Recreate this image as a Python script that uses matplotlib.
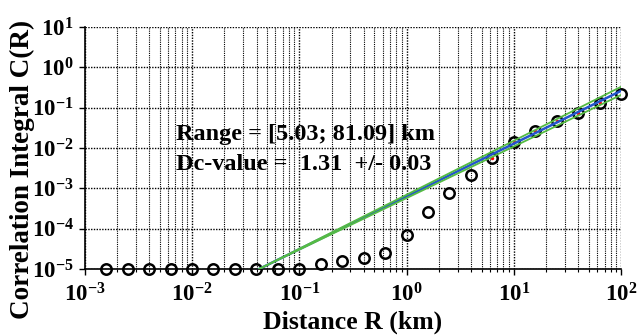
import numpy as np
import matplotlib
matplotlib.use("Agg")
import matplotlib.pyplot as plt
from matplotlib.ticker import FixedLocator, LogLocator, NullFormatter

plt.rcParams['font.family'] = ['Liberation Serif', 'DejaVu Serif']
plt.rcParams['font.weight'] = 'bold'
plt.rcParams['mathtext.fontset'] = 'custom'
plt.rcParams['mathtext.rm'] = 'Liberation Serif:bold'
plt.rcParams['mathtext.bf'] = 'Liberation Serif:bold'
plt.rcParams['mathtext.it'] = 'Liberation Serif:bold'

# data
distance_km = [0.00158, 0.00251, 0.00398, 0.00631, 0.01, 0.0158, 0.0251, 0.0398,
               0.0631, 0.1, 0.158, 0.251, 0.398, 0.631, 1.0, 1.58, 2.51, 3.98,
               6.31, 10.0, 15.8, 25.1, 39.8, 63.1, 100.0]
corr_integral = [1e-5, 1e-5, 1e-5, 1e-5, 1e-5, 1e-5, 1e-5, 1e-5,
                 1e-5, 1e-5, 1.33e-5, 1.55e-5, 1.84e-5, 2.5e-5, 6.9e-5, 2.66e-4,
                 7.5e-4, 2.16e-3, 5.8e-3, 1.42e-2, 2.65e-2, 4.7e-2, 7.6e-2, 0.134, 0.215]
fit_range = [5.03, 81.09]
dc_value = 1.31
dc_err = 0.03
x_tick_exps = [-3, -2, -1, 0, 1, 2]
y_tick_exps = [-5, -4, -3, -2, -1, 0, 1]

R = np.array(distance_km)
C = np.array(corr_integral)

fig = plt.figure(figsize=(6.44, 3.35), dpi=100)
ax = fig.add_axes([0.1315, 0.197, 0.833, 0.722])
ax.set_xscale('log')
ax.set_yscale('log')
ax.set_xlim(1e-3, 1e2)
ax.set_ylim(1e-5, 1e1)

# grid
ax.xaxis.set_major_locator(FixedLocator([10.0**e for e in x_tick_exps]))
ax.yaxis.set_major_locator(FixedLocator([10.0**e for e in y_tick_exps]))
ax.xaxis.set_minor_locator(LogLocator(base=10, subs=np.arange(2, 10)))
ax.yaxis.set_minor_locator(LogLocator(base=10, subs=np.arange(2, 10)))
ax.xaxis.set_minor_formatter(NullFormatter())
ax.yaxis.set_minor_formatter(NullFormatter())
ax.grid(True, which='major', color='black', linestyle=(0, (1, 1)), linewidth=1.0)
ax.grid(True, which='minor', color='black', linestyle=(0, (1, 1)), linewidth=0.8)
ax.set_axisbelow(True)

ax.set_xticklabels([r'$\mathbf{10^{%d}}$' % e for e in x_tick_exps])
ax.set_yticklabels([r'$\mathbf{10^{%d}}$' % e for e in y_tick_exps])
ax.tick_params(axis='both', which='major', labelsize=16.5, direction='out', length=4, width=1)
ax.tick_params(axis='x', which='major', pad=6)
ax.tick_params(axis='y', which='major', pad=4)
ax.tick_params(axis='both', which='minor', length=2, width=0.8)

for s in ['top', 'right']:
    ax.spines[s].set_visible(False)
for s in ['left', 'bottom']:
    ax.spines[s].set_linewidth(1.2)

# data points
ax.plot(R, C, linestyle='none', marker='o', markersize=7.5, markerfacecolor='none',
        markeredgecolor='black', markeredgewidth=1.8, clip_on=False, zorder=3)

# fit over range
mask = (R >= fit_range[0]) & (R <= fit_range[1])
lx = np.log10(R[mask]); ly = np.log10(C[mask])
a = ly.mean() - dc_value * lx.mean()
x0 = (np.log10(1e-5) - a) / dc_value
xx = np.array([x0, 2.0])
ax.plot(R[mask], C[mask], linestyle='none', marker='.', color='red', markersize=3, zorder=4)
ax.plot(10**xx, 10**(-5 + dc_value * (xx - x0)), color='#2255cc', linewidth=1.8, zorder=4.5)
for sl in [dc_value - dc_err, dc_value + dc_err]:
    ax.plot(10**xx, 10**(-5 + sl * (xx - x0)), color='#55bb44', linewidth=1.3, zorder=5)

ax.text(0.170, 0.533, 'Range = [%.2f; %.2f] km' % tuple(fit_range), transform=ax.transAxes,
        fontsize=17.5, fontweight='bold', color='black', zorder=6)
ax.text(0.170, 0.409, 'Dc-value =  %.2f  +/- %.2f' % (dc_value, dc_err), transform=ax.transAxes,
        fontsize=17.5, fontweight='bold', color='black', zorder=6)

ax.set_xlabel('Distance R (km)', fontsize=18.5, fontweight='bold')
ax.xaxis.set_label_coords(0.5, -0.17, transform=ax.transAxes)
ax.xaxis.label.set_va('top')
ax.set_ylabel('Correlation Integral C(R)', fontsize=19.5, fontweight='bold')
ax.yaxis.set_label_coords(-0.093, 0.41, transform=ax.transAxes)

fig.savefig('out.png', dpi=100)
